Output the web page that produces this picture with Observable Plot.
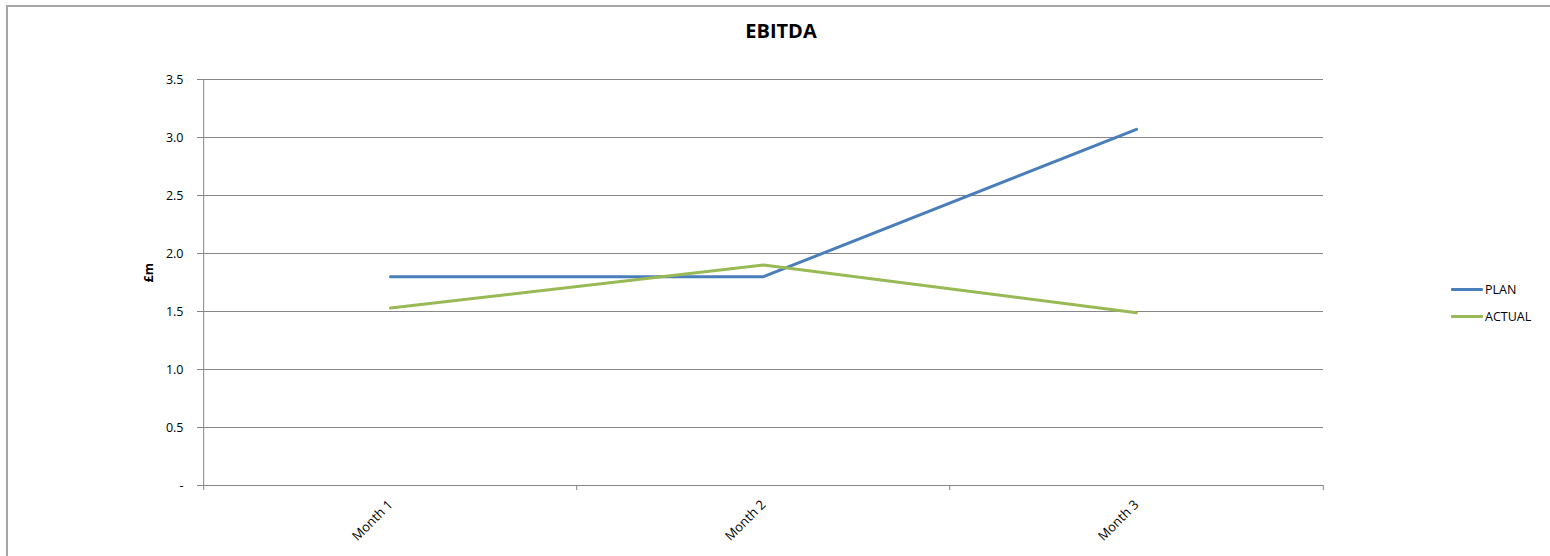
<!DOCTYPE html>
<html>
<head>
<meta charset="utf-8">
<script src="https://cdn.jsdelivr.net/npm/d3@7"></script>
<script src="https://cdn.jsdelivr.net/npm/@observablehq/plot@0.6"></script>
<style>
  html, body { margin: 0; padding: 0; background: #fff; }
  #wrap { position: relative; width: 1550px; height: 556px; overflow: hidden; font-family: "Open Sans", sans-serif; }
  #btop { position: absolute; left: 6px; top: 5px; width: 1544px; height: 2px; background: #a6a6a6; }
  #bleft { position: absolute; left: 6px; top: 5px; width: 2px; height: 551px; background: #a6a6a6; }
  #legend { position: absolute; left: 1451px; top: 276px; font-size: 12.5px; color: #000; }
  .li { display: flex; align-items: center; height: 27px; }
  .sw { width: 32px; height: 3px; margin-right: 2px; border-radius: 1px; }
</style>
</head>
<body>
<div id="wrap">
  <div id="btop"></div>
  <div id="bleft"></div>
  <div id="chart"></div>
  <div id="legend"></div>
</div>
<script>
const months = ["Month 1", "Month 2", "Month 3"];
const plan = [1.80, 1.80, 3.07];
const actual = [1.53, 1.90, 1.49];
const seriesNames = ["PLAN", "ACTUAL"];
const yTicks = [0, 0.5, 1.0, 1.5, 2.0, 2.5, 3.0, 3.5];
const title = "EBITDA";
const yLabel = "£m";

const colors = ["#4a7ebb", "#98b954"];
const gridColor = "#868686";

const rows = [
  ...months.map((m, i) => ({month: m, value: plan[i], series: seriesNames[0]})),
  ...months.map((m, i) => ({month: m, value: actual[i], series: seriesNames[1]}))
];

const W = 1550, H = 556, ML = 202, MR = 227, MT = 79, MB = 71;
const step = (W - ML - MR) / months.length;

const chart = Plot.plot({
  width: W, height: H,
  marginLeft: ML, marginRight: MR, marginTop: MT, marginBottom: MB,
  style: {fontFamily: "Open Sans, sans-serif", fontSize: "12.5px", color: "#000", background: "transparent"},
  x: {type: "point", domain: months, padding: 0.5},
  y: {domain: [0, 3.5]},
  color: {domain: seriesNames, range: colors},
  marks: [
    Plot.gridY(yTicks, {stroke: gridColor, strokeOpacity: 1}),
    Plot.axisY(yTicks, {tickSize: 5, tickPadding: 14, stroke: gridColor, label: null,
      tickFormat: d => d === 0 ? "-" : d.toFixed(1)}),
    Plot.ruleX([months[0]], {x: d => d, dx: -step / 2, stroke: gridColor}),
    Plot.ruleX(months, {x: d => d, y1: 0, y2: 0, insetBottom: -5, dx: -step / 2, stroke: gridColor}),
    Plot.ruleX([months[months.length - 1]], {x: d => d, y1: 0, y2: 0, insetBottom: -5, dx: step / 2, stroke: gridColor}),
    Plot.axisX({tickSize: 0, tickRotate: -45, tickPadding: 17, label: null, fontSize: 13, dx: 0}),
    Plot.line(rows, {x: "month", y: "value", stroke: "series", z: "series", strokeWidth: 3, strokeLinecap: "round"}),
    Plot.text([title], {frameAnchor: "top", lineAnchor: "middle", dy: -48, dx: 18, fontWeight: "bold", fontSize: 20}),
    Plot.text([yLabel], {frameAnchor: "left", dx: -54, rotate: -90, fontWeight: "bold", fontSize: 12.5})
  ]
});
document.getElementById("chart").appendChild(chart);

const legend = document.getElementById("legend");
seriesNames.forEach((name, i) => {
  const item = document.createElement("div");
  item.className = "li";
  const sw = document.createElement("div");
  sw.className = "sw";
  sw.style.background = colors[i];
  const t = document.createElement("span");
  t.textContent = name;
  item.appendChild(sw);
  item.appendChild(t);
  legend.appendChild(item);
});
</script>
</body>
</html>
